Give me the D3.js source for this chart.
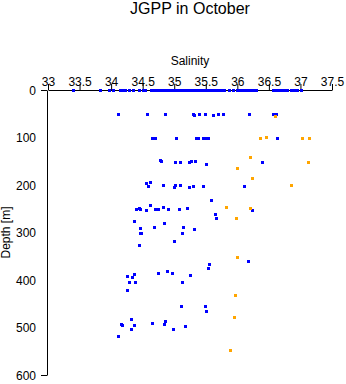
<!DOCTYPE html>
<html>
<head>
<meta charset="utf-8">
<script src="https://cdn.jsdelivr.net/npm/d3@7"></script>
<style>
html,body{margin:0;padding:0;background:#fff;}
svg{display:block;}
text{font-family:"Liberation Sans",Arial,sans-serif;fill:#000;}
</style>
</head>
<body>
<svg id="chart" width="346" height="384"></svg>
<script>
// ---- data ----
const salinityTicks = [33, 33.5, 34, 34.5, 35, 35.5, 36, 36.5, 37, 37.5];
const depthTicks = [0, 100, 200, 300, 400, 500, 600];

// surface (depth 0) blue samples
const surfaceSalinity = [33.40, 33.82, 33.97, 34.03, 34.14, 34.18, 34.22, 34.28, 34.34, 34.44, 34.51, 34.54,
  34.63, 34.67, 34.71, 34.75, 34.79, 34.83, 34.87, 34.91, 34.95, 34.99, 35.03, 35.07, 35.11, 35.15, 35.19,
  35.23, 35.27, 35.31, 35.35, 35.39, 35.43, 35.47, 35.51, 35.55, 35.59, 35.63, 35.67, 35.71, 35.75, 35.79,
  35.87, 35.93, 35.99, 36.03, 36.07, 36.11, 36.15, 36.19, 36.23, 36.27, 36.30,
  36.56, 36.60, 36.64, 36.68, 36.72, 36.76, 36.78, 36.85, 36.89, 36.95, 37.01];

// deeper blue samples
const blueSalinity = [
  34.11, 34.57, 34.85, 35.29, 35.32, 35.39, 35.49, 35.62, 35.69, 35.77, 36.19, 36.57, 36.61,
  34.64, 34.70, 35.03, 35.35, 35.38, 35.46, 35.51, 35.54, 36.63,
  34.77, 34.79, 35.01, 35.09, 35.23, 35.26, 35.33, 35.50, 36.39,
  34.56, 34.58, 34.62, 34.82, 35.01, 34.99, 35.09, 35.23, 35.30, 35.46, 36.10,
  35.58,
  34.39, 34.44, 34.45, 34.55, 34.61, 34.70, 34.74, 34.82, 34.90, 35.07, 35.20, 36.24,
  35.64, 35.66,
  34.36, 34.45, 34.47, 34.46, 34.68, 34.84, 35.14, 35.12, 35.31, 35.00, 34.44,
  35.55, 35.54, 36.17,
  34.25, 34.33, 34.37, 34.74, 34.89, 34.96, 35.25, 34.28, 34.38, 34.25, 35.13,
  35.10, 35.49, 35.50,
  34.15, 34.17, 34.31, 34.37, 34.32, 34.65, 34.85, 34.84, 34.98, 35.17, 34.11
];
const blueDepth = [
  51, 51, 51, 51, 52, 51, 51, 52, 51, 51, 50, 51, 51,
  101, 101, 100, 102, 102, 101, 101, 101, 100,
  147, 150, 152, 152, 151, 149, 150, 155, 152,
  196, 203, 193, 201, 201, 204, 201, 204, 203, 202, 202,
  232,
  251, 248, 251, 253, 242, 250, 251, 246, 251, 251, 249, 253,
  262, 270,
  276, 291, 300, 302, 289, 281, 289, 300, 293, 318, 327,
  367, 375, 361,
  391, 394, 388, 385, 382, 386, 390, 404, 404, 421, 405,
  455, 455, 466,
  492, 494, 482, 494, 504, 491, 487, 493, 504, 497, 518
];

// orange samples
const orangeSalinity = [36.60, 36.36, 36.45, 37.02, 37.14, 36.20, 36.00, 36.24, 37.12, 36.85,
  35.82, 36.20, 35.98, 36.00, 35.96, 35.94, 35.88];
const orangeDepth = [55, 102, 98, 102, 102, 140, 164, 186, 152, 200,
  247, 249, 269, 351, 432, 477, 548];

// ---- drawing ----
const svg = d3.select("#chart");
svg.append("rect").attr("width", 346).attr("height", 384).attr("fill", "#fff");

const x = d3.scaleLinear().domain([33, 37.5]).range([48, 332]);
const y = d3.scaleLinear().domain([0, 600]).range([90, 375]);

// title
svg.append("text").attr("x", 190).attr("y", 14).attr("text-anchor", "middle")
  .style("font-size", "16px").text("JGPP in October");

// x axis label
svg.append("text").attr("x", 190).attr("y", 65).attr("text-anchor", "middle")
  .style("font-size", "12px").text("Salinity");

// y axis label
svg.append("text").attr("transform", "translate(10,232.5) rotate(-90)")
  .attr("text-anchor", "middle").style("font-size", "12px").text("Depth [m]");

// top axis
const gx = svg.append("g").attr("transform", "translate(0,90)")
  .call(d3.axisTop(x).tickValues(salinityTicks).tickSize(6).tickSizeOuter(0).tickFormat(d => String(d)));
gx.selectAll("text").attr("y", -4).style("font-size", "12px").style("font-family", "'Liberation Sans',Arial,sans-serif");

// left axis
const gy = svg.append("g").attr("transform", "translate(47,0)")
  .call(d3.axisLeft(y).tickValues(depthTicks).tickSize(6).tickSizeOuter(0).tickPadding(5).tickFormat(d => String(d)));
gy.selectAll(".tick line").filter(d => d !== 0 && d !== 600).remove();
gy.selectAll("text").attr("dy", "0.36em").style("font-size", "12px").style("font-family", "'Liberation Sans',Arial,sans-serif");

gx.selectAll("path,line").attr("stroke", "#000");
gy.selectAll("path,line").attr("stroke", "#000");

// markers
const size = 3;
function drawPoints(sal, dep, color) {
  const pts = sal.map((s, i) => ({ s: s, d: dep[i] }));
  svg.append("g").selectAll("rect").data(pts).join("rect")
    .attr("x", d => Math.round(x(d.s)) - 1)
    .attr("y", d => Math.round(y(d.d)) - 1)
    .attr("width", size).attr("height", size)
    .attr("fill", color);
}
drawPoints(surfaceSalinity, surfaceSalinity.map(() => 0), "#0000ff");
drawPoints(blueSalinity, blueDepth, "#0000ff");
drawPoints(orangeSalinity, orangeDepth, "#ffa500");
</script>
</body>
</html>
